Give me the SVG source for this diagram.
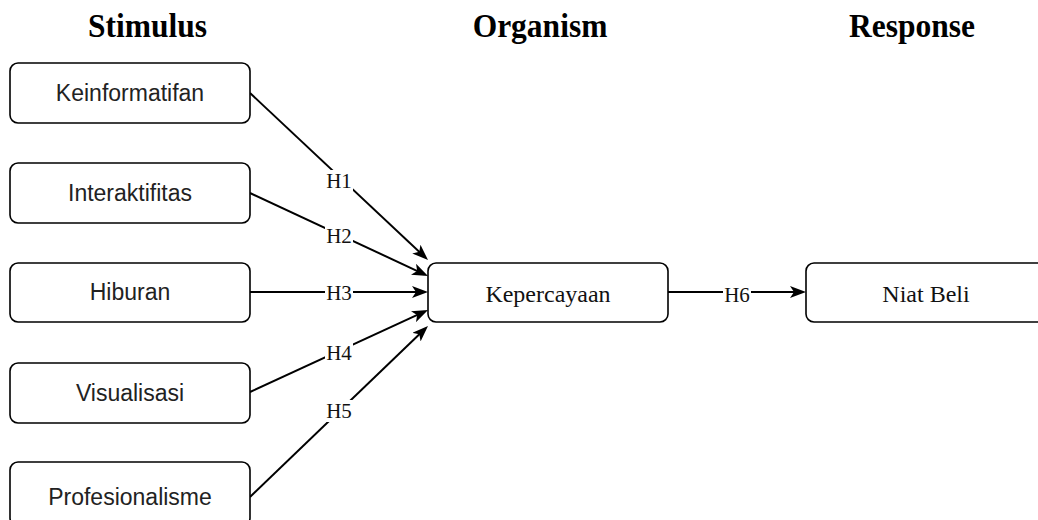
<svg xmlns="http://www.w3.org/2000/svg" width="1038" height="520" viewBox="0 0 1038 520">
<style>
.box{fill:#fff;stroke:#000;stroke-width:1.6}
.sans{font-family:"Liberation Sans",Arial,sans-serif;font-size:23px;fill:#222;text-anchor:middle}
.serif{font-family:"Liberation Serif","Times New Roman",serif;font-size:24px;fill:#111;text-anchor:middle}
.hdr{font-family:"Liberation Serif","Times New Roman",serif;font-size:31.5px;font-weight:bold;fill:#000;text-anchor:middle}
.edge{fill:none;stroke:#000;stroke-width:2;marker-end:url(#arr)}
.lbl{font-family:"Liberation Serif","Times New Roman",serif;font-size:21px;fill:#111;text-anchor:middle}
.lblbg{fill:#fff}
</style>
<defs>
<marker id="arr" viewBox="0 0 16 12" markerUnits="userSpaceOnUse" markerWidth="16" markerHeight="12" refX="12" refY="6" orient="auto">
<path d="M0,0 L16,6 L0,12 L4,6 Z" fill="#000"/>
</marker>
</defs>
<rect width="1038" height="520" fill="#fff"/>
<g id="headers">
<text class="hdr" transform="translate(147.5,37) scale(1,1.1)">Stimulus</text>
<text class="hdr" transform="translate(540,37) scale(1,1.1)">Organism</text>
<text class="hdr" transform="translate(912,37) scale(1,1.1)">Response</text>
</g>
<g id="connectors">
<path class="edge" d="M250,93 L425.1,257.3"/>
<path class="edge" d="M250,193 L424.4,274.3"/>
<path class="edge" d="M250,292 L424,292"/>
<path class="edge" d="M250,392 L424.4,311.7"/>
<path class="edge" d="M250,497 L425.1,328.8"/>
<path class="edge" d="M668,292 L802,292"/>
<rect class="lblbg" x="325" y="170" width="28" height="22"/>
<text class="lbl" x="339" y="188">H1</text>
<rect class="lblbg" x="325" y="226" width="28" height="21"/>
<text class="lbl" x="339" y="243">H2</text>
<rect class="lblbg" x="325" y="283" width="28" height="20"/>
<text class="lbl" x="339" y="300">H3</text>
<rect class="lblbg" x="325" y="342" width="28" height="21"/>
<text class="lbl" x="339" y="360">H4</text>
<rect class="lblbg" x="325" y="400" width="28" height="22"/>
<text class="lbl" x="339" y="418">H5</text>
<rect class="lblbg" x="723" y="283" width="28" height="20"/>
<text class="lbl" x="737" y="302">H6</text>
</g>
<g id="n-keinformatifan">
<rect class="box" x="10" y="63" width="240" height="60" rx="8"/>
<text class="sans" x="130" y="101">Keinformatifan</text>
</g>
<g id="n-interaktifitas">
<rect class="box" x="10" y="163" width="240" height="60" rx="8"/>
<text class="sans" x="130" y="201">Interaktifitas</text>
</g>
<g id="n-hiburan">
<rect class="box" x="10" y="263" width="240" height="59" rx="8"/>
<text class="sans" x="130" y="300">Hiburan</text>
</g>
<g id="n-visualisasi">
<rect class="box" x="10" y="363" width="240" height="60" rx="8"/>
<text class="sans" x="130" y="401">Visualisasi</text>
</g>
<g id="n-profesionalisme">
<rect class="box" x="10" y="462" width="240" height="64" rx="8"/>
<text class="sans" x="130" y="505">Profesionalisme</text>
</g>
<g id="n-kepercayaan">
<rect class="box" x="428" y="263" width="240" height="59" rx="8"/>
<text class="serif" x="548" y="302">Kepercayaan</text>
</g>
<g id="n-niatbeli">
<rect class="box" x="806" y="263" width="240" height="59" rx="8"/>
<text class="serif" x="926" y="302">Niat Beli</text>
</g>
</svg>
